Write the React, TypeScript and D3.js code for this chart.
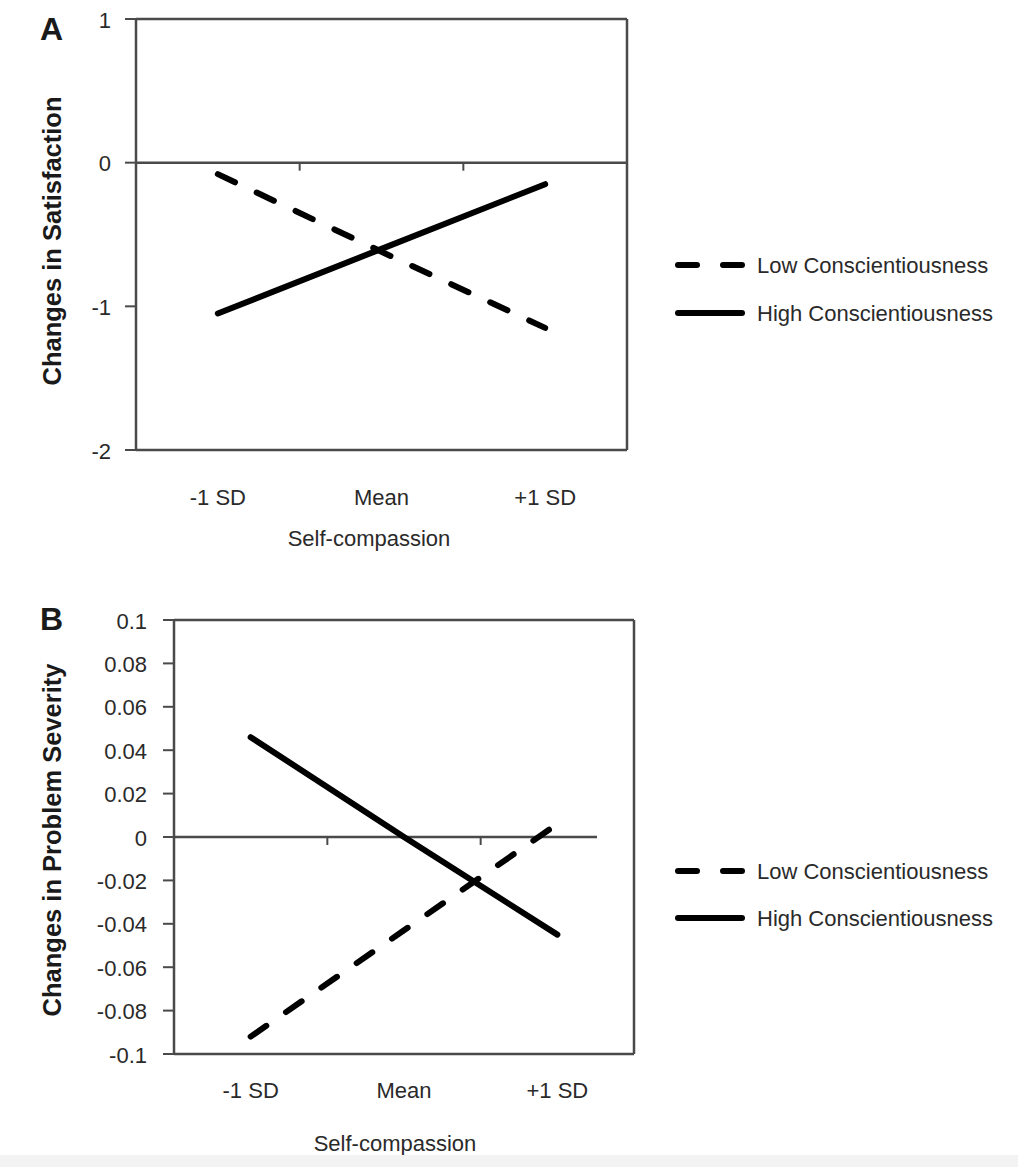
import * as d3 from "d3";

// categories on the x axis
const categories = ["-1 SD", "Mean", "+1 SD"];

// panel A: changes in satisfaction
const satisfactionLow = [-0.08, -0.62, -1.15];
const satisfactionHigh = [-1.05, -0.6, -0.15];
const satisfactionTicks = [1, 0, -1, -2];

// panel B: changes in problem severity
const severityLow = [-0.092, -0.043, 0.006];
const severityHigh = [0.046, 0.0, -0.045];
const severityTicks = [0.1, 0.08, 0.06, 0.04, 0.02, 0, -0.02, -0.04, -0.06, -0.08, -0.1];

const seriesNames = ["Low Conscientiousness", "High Conscientiousness"];

const FONT = "'Liberation Sans', Arial, Helvetica, sans-serif";
const TEXT = "#2a2a2a";
const FRAME = "#4a4a4a";

type PanelProps = {
  letter: string;
  yTitle: string;
  low: number[];
  high: number[];
  ticks: number[];
  domain: [number, number];
  box: { left: number; right: number; top: number; bottom: number };
  labelX: number;
  letterY: number;
  xLabelGap: number;
  xTitleX: number;
  xTitleY: number;
  yTitleY: number;
  zeroEnd?: number;
  legendY: [number, number];
};

const Panel = ({
  letter,
  yTitle,
  low,
  high,
  ticks,
  domain,
  box,
  labelX,
  letterY,
  xLabelGap,
  xTitleX,
  xTitleY,
  yTitleY,
  zeroEnd,
  legendY,
}: PanelProps) => {
  const x = d3
    .scaleBand<string>()
    .domain(categories)
    .range([box.left, box.right])
    .padding(0);
  const y = d3.scaleLinear().domain(domain).range([box.bottom, box.top]);
  const cx = (c: string) => (x(c) ?? 0) + x.bandwidth() / 2;

  const line = d3
    .line<number>()
    .x((_, i) => cx(categories[i]))
    .y((d) => y(d));

  const y0 = y(0);
  const boundaries = categories.slice(1).map((c) => x(c) ?? 0);

  return (
    <g>
      <text
        x={40}
        y={letterY}
        fontFamily={FONT}
        fontWeight="bold"
        fontSize={32}
        fill="#1a1a1a"
      >
        {letter}
      </text>

      {/* frame */}
      <line x1={box.left} x2={box.right} y1={box.top} y2={box.top} stroke={FRAME} strokeWidth={2.5} />
      <line x1={box.left} x2={box.right} y1={box.bottom} y2={box.bottom} stroke={FRAME} strokeWidth={2.5} />
      <line x1={box.left} x2={box.left} y1={box.top} y2={box.bottom} stroke={FRAME} strokeWidth={2.5} />
      <line x1={box.right} x2={box.right} y1={box.top} y2={box.bottom} stroke={FRAME} strokeWidth={2.5} />

      {/* zero line + category ticks */}
      <line x1={box.left} x2={zeroEnd ?? box.right} y1={y0} y2={y0} stroke={FRAME} strokeWidth={2.5} />
      {boundaries.map((bx, i) => (
        <line key={i} x1={bx} x2={bx} y1={y0} y2={y0 + 8} stroke={FRAME} strokeWidth={2} />
      ))}

      {/* y ticks */}
      {ticks.map((t) => (
        <g key={t}>
          <line x1={box.left - 11} x2={box.left} y1={y(t)} y2={y(t)} stroke={FRAME} strokeWidth={2} />
          <text
            x={labelX}
            y={y(t) + 1}
            textAnchor="end"
            dominantBaseline="central"
            fontFamily={FONT}
            fontSize={22}
            fill={TEXT}
          >
            {String(+t.toFixed(2))}
          </text>
        </g>
      ))}

      {/* x labels */}
      {categories.map((c) => (
        <text
          key={c}
          x={cx(c)}
          y={box.bottom + xLabelGap}
          textAnchor="middle"
          dominantBaseline="central"
          fontFamily={FONT}
          fontSize={22}
          fill={TEXT}
        >
          {c}
        </text>
      ))}
      <text
        x={xTitleX}
        y={xTitleY}
        textAnchor="middle"
        dominantBaseline="central"
        fontFamily={FONT}
        fontSize={22}
        fill={TEXT}
      >
        Self-compassion
      </text>
      <text
        transform={`translate(52,${yTitleY}) rotate(-90)`}
        textAnchor="middle"
        dominantBaseline="central"
        fontFamily={FONT}
        fontWeight="bold"
        fontSize={25.5}
        fill="#1a1a1a"
      >
        {yTitle}
      </text>

      {/* series */}
      <path
        d={line(low) ?? ""}
        fill="none"
        stroke="#000"
        strokeWidth={6}
        strokeLinecap="round"
        strokeDasharray="19 24"
      />
      <path d={line(high) ?? ""} fill="none" stroke="#000" strokeWidth={6} strokeLinecap="round" />

      {/* legend */}
      <line
        x1={678}
        x2={742}
        y1={legendY[0]}
        y2={legendY[0]}
        stroke="#000"
        strokeWidth={6}
        strokeLinecap="round"
        strokeDasharray="19 26"
      />
      <line x1={678} x2={742} y1={legendY[1]} y2={legendY[1]} stroke="#000" strokeWidth={6} strokeLinecap="round" />
      {seriesNames.map((n, i) => (
        <text
          key={n}
          x={757}
          y={legendY[i]}
          dominantBaseline="central"
          fontFamily={FONT}
          fontSize={22}
          fill={TEXT}
        >
          {n}
        </text>
      ))}
    </g>
  );
};

export default function App() {
  const width = 1018;
  const height = 1167;
  return (
    <svg
      width={width}
      height={height}
      style={{ position: "absolute", left: 0, top: 0, background: "#fff" }}
    >
      <rect x={0} y={0} width={width} height={height} fill="#fff" />
      <Panel
        letter="A"
        yTitle="Changes in Satisfaction"
        low={satisfactionLow}
        high={satisfactionHigh}
        ticks={satisfactionTicks}
        domain={[-2, 1]}
        box={{ left: 136, right: 627, top: 19, bottom: 450 }}
        labelX={111}
        letterY={40}
        xLabelGap={47}
        xTitleX={369}
        xTitleY={538}
        yTitleY={241}
        legendY={[265, 313]}
      />
      <Panel
        letter="B"
        yTitle="Changes in Problem Severity"
        low={severityLow}
        high={severityHigh}
        ticks={severityTicks}
        domain={[-0.1, 0.1]}
        box={{ left: 174, right: 634, top: 620, bottom: 1054 }}
        labelX={147}
        letterY={630}
        xLabelGap={36}
        xTitleX={395}
        xTitleY={1143}
        yTitleY={840}
        zeroEnd={597}
        legendY={[871, 918]}
      />
      <rect x={0} y={1155} width={width} height={12} fill="#f3f3f3" />
    </svg>
  );
}
